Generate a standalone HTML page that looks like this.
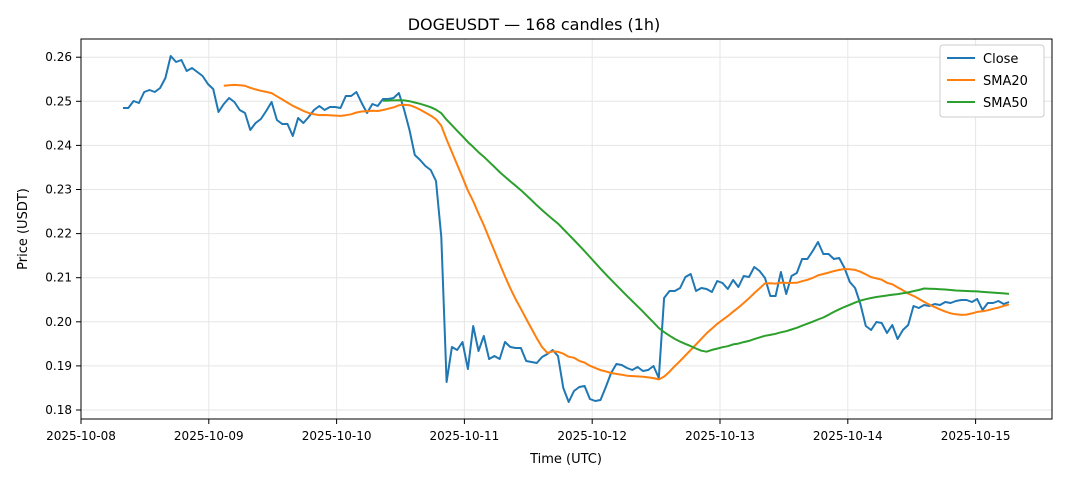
<!DOCTYPE html>
<html><head><meta charset="utf-8"><style>
body{margin:0;background:#fff;}
svg text{font-family:"DejaVu Sans","Liberation Sans",sans-serif;fill:#000;}
</style></head><body>
<svg id="s" width="1068" height="481" xmlns="http://www.w3.org/2000/svg">
<rect width="1068" height="481" fill="#fff"/>
<g id="grid" stroke="#e6e6e6" stroke-width="1"></g>
<g id="ticks"></g>
<polyline id="close" fill="none" stroke="#1f77b4" stroke-width="2" stroke-linejoin="round"/>
<polyline id="s20" fill="none" stroke="#ff7f0e" stroke-width="2" stroke-linejoin="round"/>
<polyline id="s50" fill="none" stroke="#2ca02c" stroke-width="2" stroke-linejoin="round"/>
<rect x="81" y="39" width="971" height="380" fill="none" stroke="#000" stroke-width="1"/>
<text x="534" y="30" font-size="16" text-anchor="middle">DOGEUSDT — 168 candles (1h)</text>
<text x="566" y="463" font-size="13" text-anchor="middle">Time (UTC)</text>
<text x="27" y="229" font-size="13" text-anchor="middle" transform="rotate(-90 27 229)">Price (USDT)</text>
<rect x="940" y="45" width="104" height="72" fill="#fff" stroke="#ccc" rx="3"/>
<line x1="947" y1="58" x2="975" y2="58" stroke="#1f77b4" stroke-width="2"/>
<line x1="947" y1="80" x2="975" y2="80" stroke="#ff7f0e" stroke-width="2"/>
<line x1="947" y1="102" x2="975" y2="102" stroke="#2ca02c" stroke-width="2"/>
<text x="983" y="63" font-size="13">Close</text>
<text x="983" y="85" font-size="13">SMA20</text>
<text x="983" y="107" font-size="13">SMA50</text>
</svg>
<script>
var c=[108,108,101,103,92,90,92,88,78,56,62,60,71,68,72,76,84,89,112,104,98,102,110,113,130,123,119,111,102,120,124,124,136,118,123,117,110,106,110,107,107,108,96,96,92,103,113,104,106,99,99,98,93,110,130,155,160,166,170,181,237,382,347,350,342,369,326,351,336,359,356,359,342,347,348,348,361,362,363,357,354,350,356,388,402,391,387,386,399,401,400,387,373,364,365,368,370,367,371,370,366,378,298,291,291,288,277,274,291,288,289,292,281,283,289,280,287,276,277,267,271,278,296,296,272,294,276,273,259,259,251,242,254,254,259,258,268,282,288,304,326,330,322,323,333,325,339,330,325,306,308,305,306,304,305,302,303,301,300,300,302,299,310,303,303,301,304,302];
var n=c.length,x0=123,dx=(1009-123)/(n-1);
function X(i){return (x0+i*dx).toFixed(1);}
document.getElementById('close').setAttribute('points',c.map(function(v,i){return X(i)+','+v;}).join(' '));
function sma(w){var p=[];for(var i=w-1;i<n;i++){var s=0;for(var j=i-w+1;j<=i;j++)s+=c[j];p.push(X(i)+','+(s/w).toFixed(1));}return p.join(' ');}
document.getElementById('s20').setAttribute('points',sma(20));
document.getElementById('s50').setAttribute('points',sma(50));
var g=document.getElementById('grid'),t=document.getElementById('ticks'),ns='http://www.w3.org/2000/svg';
function el(p,tag,a,txt){var e=document.createElementNS(ns,tag);for(var k in a)e.setAttribute(k,a[k]);if(txt)e.textContent=txt;p.appendChild(e);}
var yl=['0.18','0.19','0.20','0.21','0.22','0.23','0.24','0.25','0.26'];
for(var i=0;i<9;i++){var y=410-i*44.1;el(g,'line',{x1:81,x2:1052,y1:y,y2:y});el(t,'line',{x1:76,x2:81,y1:y,y2:y,stroke:'#000'});el(t,'text',{x:72,y:y+4,'font-size':12,'text-anchor':'end'},yl[i]);}
for(var d=0;d<8;d++){var x=81+d*127.8;el(g,'line',{x1:x,x2:x,y1:39,y2:419});el(t,'line',{x1:x,x2:x,y1:419,y2:424,stroke:'#000'});el(t,'text',{x:x,y:440,'font-size':12,'text-anchor':'middle'},'2025-10-'+('0'+(8+d)).slice(-2));}
</script>
</body></html>
